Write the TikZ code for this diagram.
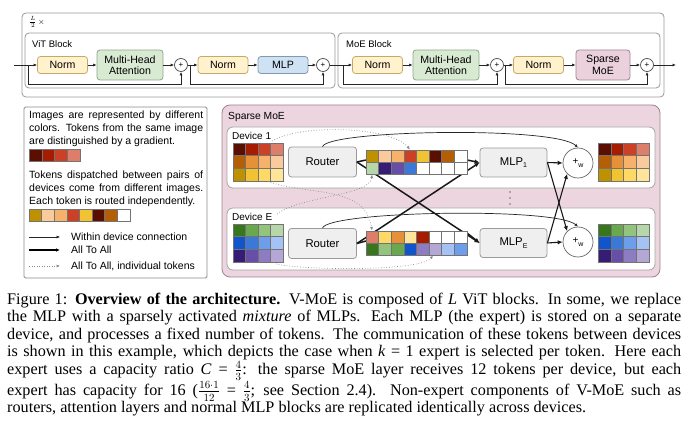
\documentclass[tikz,border=0pt]{standalone}
\usepackage{fontspec}
\setmainfont{Liberation Serif}
\setsansfont{Liberation Sans}
\usetikzlibrary{arrows.meta,calc}
\definecolor{c1}{HTML}{5B0F00}\definecolor{c2}{HTML}{A61C00}\definecolor{c3}{HTML}{CC4125}\definecolor{c4}{HTML}{DD7E6B}
\definecolor{o1}{HTML}{B45F06}\definecolor{o2}{HTML}{E69138}\definecolor{o3}{HTML}{F6B26B}\definecolor{o4}{HTML}{F9CB9C}
\definecolor{y1}{HTML}{BF9000}\definecolor{y2}{HTML}{F1C232}\definecolor{y3}{HTML}{FFD966}\definecolor{y4}{HTML}{FFE599}
\definecolor{g1}{HTML}{38761D}\definecolor{g2}{HTML}{6AA84F}\definecolor{g3}{HTML}{93C47D}\definecolor{g4}{HTML}{B6D7A8}
\definecolor{b1}{HTML}{1155CC}\definecolor{b2}{HTML}{3C78D8}\definecolor{b3}{HTML}{6D9EEB}\definecolor{b4}{HTML}{A4C2F4}
\definecolor{p1}{HTML}{351C75}\definecolor{p2}{HTML}{674EA7}\definecolor{p3}{HTML}{8E7CC3}\definecolor{p4}{HTML}{B4A7D6}
\definecolor{wh}{HTML}{FFFFFF}
\definecolor{normfill}{HTML}{FFF2CC}\definecolor{normdraw}{HTML}{C8A867}
\definecolor{mhafill}{HTML}{D9EAD3}\definecolor{mhadraw}{HTML}{8FA88A}
\definecolor{mlpfill}{HTML}{CFE2F3}\definecolor{mlpdraw}{HTML}{8098B0}
\definecolor{smoefill}{HTML}{EAD1DC}\definecolor{smoedraw}{HTML}{9E8592}
\definecolor{grayfill}{HTML}{EFEFEF}\definecolor{graydraw}{HTML}{9A9A9A}
\definecolor{bigpink}{HTML}{ECD5DE}
\newcommand\tokrow[5]{\foreach \col [count=\i from 0] in {#5} {\filldraw[fill=\col,draw=black!55,line width=0.35pt] ({#1+\i*#3},{#2}) rectangle ++(#3,#4);}}
\begin{document}
\begin{tikzpicture}[x=1pt,y=-1pt,
  every node/.style={font=\sffamily},
  blk/.style={draw, rounded corners=3pt, line width=0.8pt, inner sep=0pt, align=center, font=\sffamily\fontsize{10.6}{11.5}\selectfont},
  normbox/.style={blk, fill=normfill, draw=normdraw, minimum width=50pt, minimum height=17pt},
  mhabox/.style={blk, fill=mhafill, draw=mhadraw, minimum width=66pt, minimum height=30pt},
  mlpbox/.style={blk, fill=mlpfill, draw=mlpdraw, minimum width=50pt, minimum height=17pt},
  smoebox/.style={blk, fill=smoefill, draw=smoedraw, minimum width=54pt, minimum height=30pt},
  graybox/.style={blk, fill=grayfill, draw=graydraw, minimum width=68pt, minimum height=30pt, font=\sffamily\fontsize{11.3}{12}\selectfont},
  plusc/.style={draw=black!70, fill=white, circle, minimum size=13pt, inner sep=0pt, line width=0.7pt, font=\sffamily\fontsize{8}{8}\selectfont},
  pluswc/.style={draw=black!60, fill=white, circle, minimum size=30pt, inner sep=0pt, line width=0.7pt, font=\sffamily\fontsize{10}{10}\selectfont},
  arr/.style={-{Latex[length=3.5pt,width=3pt]}, line width=0.7pt, black!85},
  thk/.style={-{Latex[length=5pt,width=4.5pt]}, line width=1.5pt, black!90},
  thkline/.style={line width=1.5pt, black!90},
  dotarr/.style={-{Latex[length=3.5pt,width=3pt]}, dotted, line width=0.7pt, black!45},
  lbl/.style={font=\sffamily\fontsize{10.3}{11}\selectfont, inner sep=0pt, anchor=west},
  legtxt/.style={anchor=north west, inner sep=0pt, text width=174pt, align=justify, font=\sffamily\fontsize{10.5}{13}\selectfont},
  contbox/.style={draw=graydraw, line width=0.8pt, rounded corners=4pt}
]
\useasboundingbox (0,0) rectangle (688,435);
\fill[white] (0,0) rectangle (688,435);

% ---------- top row ----------
\draw[contbox, draw=black!40] (22,13) rectangle (664,97);
\node[lbl, font=\sffamily\fontsize{8}{9}\selectfont] at (29,22) {$\frac{L}{2}$\,$\times$};
\draw[contbox] (25,33) rectangle (335,88);
\draw[contbox] (338,33) rectangle (660,88);
\node[lbl, font=\sffamily\fontsize{9.5}{11}\selectfont] at (32,44) {ViT Block};
\node[lbl, font=\sffamily\fontsize{9.5}{11}\selectfont] at (346,44) {MoE Block};

\coordinate (in) at (14,65);
\coordinate (out) at (676,65);
\node[normbox] (n1) at (62.5,65) {Norm};
\node[mhabox] (mha1) at (130,65) {Multi-Head\\Attention};
\node[plusc] (pl1) at (181,65) {+};
\node[normbox] (n2) at (223,65) {Norm};
\node[mlpbox] (mlp) at (283,65) {MLP};
\node[plusc] (pl2) at (323,65) {+};
\node[normbox] (n3) at (377.5,65) {Norm};
\node[mhabox] (mha2) at (446,65) {Multi-Head\\Attention};
\node[plusc] (pl3) at (497,65) {+};
\node[normbox] (n4) at (538.5,65) {Norm};
\node[smoebox] (smoe) at (603,65) {Sparse\\MoE};
\node[plusc] (pl4) at (647,65) {+};

\draw[arr] (in) -- (n1);
\draw[arr] (n1) -- (mha1);
\draw[arr] (mha1) -- (pl1);
\draw[arr] (pl1) -- (n2);
\draw[arr] (n2) -- (mlp);
\draw[arr] (mlp) -- (pl2);
\draw[arr] (pl2) -- (n3);
\draw[arr] (n3) -- (mha2);
\draw[arr] (mha2) -- (pl3);
\draw[arr] (pl3) -- (n4);
\draw[arr] (n4) -- (smoe);
\draw[arr] (smoe) -- (pl4);
\draw[arr] (pl4) -- (out);
\coordinate (r1) at (28,65);
\coordinate (r2) at (190,65);
\coordinate (r3) at (343,65);
\coordinate (r4) at (505,65);
\draw[arr] (r1) |- (181,84) -- (pl1.south);
\draw[arr] (r2) |- (323,84) -- (pl2.south);
\draw[arr] (r3) |- (497,84) -- (pl3.south);
\draw[arr] (r4) |- (647,84) -- (pl4.south);

% ---------- legend ----------
\draw[draw=black!45, line width=0.8pt, rounded corners=1.5pt] (24,107) rectangle (207,278);
\node[legtxt] (lt1) at (29,111)
 {Images are represented by different\linebreak colors. Tokens from the same image\linebreak are distinguished by a gradient.};
\tokrow{29}{149.5}{12.7}{12}{c1,c2,c3,c4}
\node[legtxt] (lt2) at (29,171)
 {Tokens dispatched between pairs of\linebreak devices come from different images.\linebreak Each token is routed independently.};
\tokrow{29}{209}{12.6}{12}{y1,o4,o3,c3,y2,c1,o1,wh}
\coordinate (la1) at (29,237); \coordinate (lb1) at (60,237);
\coordinate (la2) at (29,250); \coordinate (lb2) at (60,250);
\coordinate (la3) at (29,266); \coordinate (lb3) at (60,266);
\draw[arr, line width=0.5pt] (la1) -- (lb1);
\draw[-{Latex[length=4pt,width=3.5pt]}, line width=1.3pt] (la2) -- (lb2);
\draw[dotarr, line width=0.5pt] (la3) -- (lb3);
\node[lbl, font=\sffamily\fontsize{10.5}{11}\selectfont] at (71,237) {Within device connection};
\node[lbl, font=\sffamily\fontsize{10.5}{11}\selectfont] at (71,250) {All To All};
\node[lbl, font=\sffamily\fontsize{10.5}{11}\selectfont] at (71,266) {All To All, individual tokens};

% ---------- sparse MoE ----------
\draw[draw=smoedraw, fill=bigpink, line width=0.8pt, rounded corners=8pt] (222,105) rectangle (660,277);
\node[lbl] at (228,117) {Sparse MoE};
\draw[draw=black!35, fill=white, line width=0.8pt, rounded corners=6pt] (227,127) rectangle (655,188);
\draw[draw=black!35, fill=white, line width=0.8pt, rounded corners=6pt] (227,208) rectangle (655,270);
\node[lbl, font=\sffamily\fontsize{10}{11}\selectfont] at (232,136) {Device 1};
\node[lbl, font=\sffamily\fontsize{10}{11}\selectfont] at (232,217) {Device E};
\fill[black!55] (510,192) circle (0.9pt) (510,198) circle (0.9pt) (510,204) circle (0.9pt);

\node[graybox] (rt1) at (322.5,162) {Router};
\node[graybox] (rtE) at (322.5,243.5) {Router};
\node[graybox, minimum width=67pt, minimum height=29pt] (m1) at (513.5,162.5) {MLP\raisebox{-2.5pt}{\fontsize{7}{7}\selectfont 1}};
\node[graybox, minimum width=67pt, minimum height=29pt] (mE) at (513.5,243) {MLP\raisebox{-2.5pt}{\fontsize{7}{7}\selectfont E}};
\node[pluswc] (w1) at (578,163) {+\raisebox{-3pt}{\fontsize{7}{7}\selectfont w}};
\node[pluswc] (wE) at (578,242) {+\raisebox{-3pt}{\fontsize{7}{7}\selectfont w}};

% buffers (named anchors)
\coordinate (b1w) at (366,160);
\coordinate (b1e) at (467,160);
\coordinate (bEw) at (366,241);
\coordinate (bEe) at (467,233);

% thick all-to-all connections
\draw[thkline] (rt1.east) -- (b1w);
\draw[thkline] (rtE.east) -- (bEw);
\draw[thk] (rt1.east) -- (mE.west);
\draw[thk] (rtE.east) -- (m1.west);
\draw[thk] (b1e) -- (m1.west);
\draw[thk] (bEe) -- (mE.west);
\draw[thk, line width=1.1pt] (m1.east) -- (w1.west);
\draw[thk, line width=1.1pt] (mE.east) -- (wE.west);
\draw[thk, line width=1.1pt] (m1.east) -- (wE.north west);
\draw[thk, line width=1.1pt] (mE.east) -- (w1.south west);

% within-device curved arrows
\draw[arr] (rt1.north) .. controls (328,130) and (555,126) .. (w1.north);
\draw[arr] (rtE.north) .. controls (328,211) and (555,207) .. (wE.north);

% token grids
\tokrow{233}{143}{12.5}{12.67}{c1,c2,c3,c4}
\tokrow{233}{155.67}{12.5}{12.67}{o1,o2,o3,o4}
\tokrow{233}{168.33}{12.5}{12.67}{y1,y2,y3,y4}
\tokrow{233}{224}{12.5}{12.67}{g1,g2,g3,g4}
\tokrow{233}{236.67}{12.5}{12.67}{b1,b2,b3,b4}
\tokrow{233}{249.33}{12.5}{12.67}{p1,p2,p3,p4}
\tokrow{598}{143}{12.75}{12.67}{c1,c2,c3,c4}
\tokrow{598}{155.67}{12.75}{12.67}{o1,o2,o3,o4}
\tokrow{598}{168.33}{12.75}{12.67}{y1,y2,y3,y4}
\tokrow{598}{224}{12.75}{12.67}{g1,g2,g3,g4}
\tokrow{598}{236.67}{12.75}{12.67}{b1,b2,b3,b4}
\tokrow{598}{249.33}{12.75}{12.67}{p1,p2,p3,p4}
% buffers
\tokrow{366}{150}{12.6}{12}{y1,o4,o3,c3,y2,c1,o1,wh}
\tokrow{366}{162}{12.6}{12}{g4,p1,p2,b2,wh,wh,wh,wh}
\tokrow{366}{231}{12.6}{12}{c4,y3,o2,y4,c2,wh,wh,wh}
\tokrow{366}{243}{12.6}{12}{g1,g3,g2,b1,p3,p4,b4,b3}

% individual token dotted arrows
\coordinate (d1s) at (272,141);
\coordinate (d1t) at (410,149.5);
\coordinate (d2s) at (268,181.5);
\coordinate (d2t) at (372,230.5);
\coordinate (d3s) at (277,214);
\coordinate (d3t) at (372,174.5);
\coordinate (d4s) at (276,264);
\coordinate (d4t) at (433,255.5);
\draw[dotarr] (d1s) .. controls (300,124) and (390,126) .. (d1t);
\draw[dotarr] (d2s) .. controls (310,196) and (365,185) .. (d2t);
\draw[dotarr] (d3s) .. controls (300,196) and (370,196) .. (d3t);
\draw[dotarr] (d4s) .. controls (300,270) and (420,272) .. (d4t);

% ---------- caption ----------
\node[anchor=north west, inner sep=0pt, text width=674pt, align=justify, font=\rmfamily\fontsize{16.2}{17.3}\selectfont] (cap) at (7,293)
{\hyphenpenalty=10000\exhyphenpenalty=10000 Figure 1: \textbf{Overview of the architecture.} V-MoE is composed of \textit{L} ViT blocks. In some, we replace\linebreak
the MLP with a sparsely activated \textit{mixture} of MLPs. Each MLP (the expert) is stored on a separate\linebreak
device, and processes a fixed number of tokens. The communication of these tokens between devices\linebreak
is shown in this example, which depicts the case when \textit{k} = 1 expert is selected per token. Here each\linebreak
expert uses a capacity ratio \textit{C} = $\frac{4}{3}$: the sparse MoE layer receives 12 tokens per device, but each\linebreak
expert has capacity for 16 ($\frac{16\cdot1}{12}$ = $\frac{4}{3}$; see Section 2.4). Non-expert components of V-MoE such as\linebreak
routers, attention layers and normal MLP blocks are replicated identically across devices.};
\end{tikzpicture}
\end{document}
